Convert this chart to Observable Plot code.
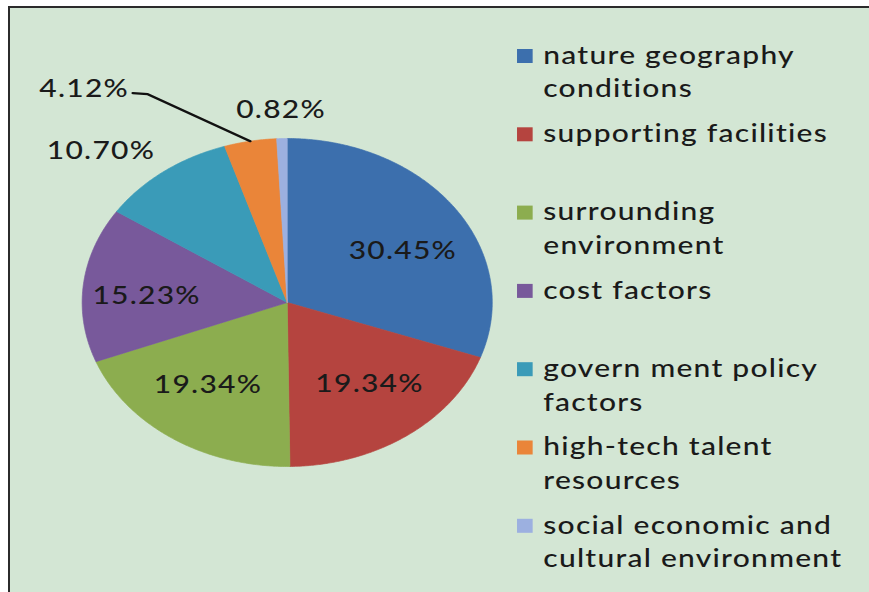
<!DOCTYPE html>
<html><head><meta charset="utf-8">
<script src="https://cdn.jsdelivr.net/npm/d3@7"></script>
<script src="https://cdn.jsdelivr.net/npm/@observablehq/plot@0.6"></script>
<style>
html,body{margin:0;padding:0;background:#fff;}
#wrap{position:relative;width:869px;height:592px;overflow:hidden;}
#bg{position:absolute;left:8px;top:6px;right:0;bottom:0;background:#d3e6d4;border-top:2px solid #2b2b2b;border-left:2px solid #2b2b2b;}
#chart{position:absolute;left:0;top:0;}
</style></head><body>
<div id="wrap"><div id="bg"></div><div id="chart"></div></div>
<script>
// ---- data ----
const categories = [
  "nature geography conditions",
  "supporting facilities",
  "surrounding environment",
  "cost factors",
  "government policy factors",
  "high-tech talent resources",
  "social economic and cultural environment"
];
const shares = [30.45, 19.34, 19.34, 15.23, 10.70, 4.12, 0.82];
const shareLabels = ["30.45%", "19.34%", "19.34%", "15.23%", "10.70%", "4.12%", "0.82%"];
const legendLabels = [
  "nature geography\nconditions",
  "supporting facilities",
  "surrounding\nenvironment",
  "cost factors",
  "govern ment policy\nfactors",
  "high-tech talent\nresources",
  "social economic and\ncultural environment"
];
const colors = ["#3c6fad", "#b5443f", "#8cad4f", "#78599b", "#3a9bb8", "#ea8539", "#9cb0e0"];

// ---- layout (unstretched drawing units; the svg is stretched horizontally like the source image) ----
const W = 695, H = 592, OUT_W = 869;
const cx = 229.2, cy = 302, R = 164;
const total = d3.sum(shares);
const toPt = (a, rx, ry = rx) => ({x: cx + rx * Math.sin(a), y: cy - ry * Math.cos(a)});

let acc = 0;
const slices = categories.map((name, i) => {
  const a0 = acc / total * 2 * Math.PI;
  acc += shares[i];
  const a1 = acc / total * 2 * Math.PI;
  return {name, i, a0, a1, mid: (a0 + a1) / 2, label: shareLabels[i], value: shares[i]};
});

const slicePts = [];
for (const s of slices) {
  slicePts.push({name: s.name, ...toPt(0, 0)});
  const n = Math.max(2, Math.ceil((s.a1 - s.a0) / (Math.PI / 360)));
  for (let k = 0; k <= n; k++) slicePts.push({name: s.name, ...toPt(s.a0 + (s.a1 - s.a0) * k / n, R)});
  slicePts.push({name: s.name, ...toPt(0, 0)});
}

const inside = slices.filter(s => s.value >= 12).map(s => ({...s, ...toPt(s.mid, R * 0.69, R * 0.58)}));
const outsideEnd = slices.filter(s => s.value >= 5 && s.value < 12).map(s => { const p = toPt(s.mid, R * 1.16); return {...s, x: p.x + 9, y: p.y + 1}; });
const outsideMid = slices.filter(s => s.value < 1).map(s => ({...s, ...toPt(s.mid, R * 1.17)}));
const leadSlices = slices.filter(s => s.value >= 1 && s.value < 5);
const leader = [];
const leaderLabels = [];
for (const s of leadSlices) {
  const p = toPt(s.mid, R);
  const elbow = {x: p.x - 82, y: p.y - 47};
  const end = {x: elbow.x - 12, y: elbow.y - 1};
  leader.push({name: s.name, ...p}, {name: s.name, ...elbow}, {name: s.name, ...end});
  leaderLabels.push({label: s.label, x: end.x - 3, y: end.y - 4});
}

const rowPitch = 78.3, firstRow = 57;
const legend = legendLabels.map((t, i) => ({name: categories[i], text: t, cyRow: firstRow + rowPitch * i}));

const FS = 24;
const chart = Plot.plot({
  width: W, height: H, margin: 0,
  x: {domain: [0, W], range: [0, W], axis: null},
  y: {domain: [0, H], range: [0, H], axis: null},
  color: {domain: categories, range: colors},
  style: {background: "transparent", fontFamily: "Lato, 'Open Sans', sans-serif", color: "#1c1c1c", letterSpacing: "1px"},
  marks: [
    Plot.line(slicePts, {x: "x", y: "y", z: "name", fill: "name", stroke: "name", strokeWidth: 0.6, curve: "linear"}),
    Plot.text(inside, {x: "x", y: "y", text: "label", fontSize: FS, fontWeight: 500, fill: "#1a1a1a", dy: 4}),
    Plot.text(outsideEnd, {x: "x", y: "y", text: "label", fontSize: FS, fontWeight: 500, fill: "#1a1a1a", textAnchor: "end"}),
    Plot.text(outsideMid, {x: "x", y: "y", text: "label", fontSize: FS, fontWeight: 500, fill: "#1a1a1a"}),
    Plot.line(leader, {x: "x", y: "y", z: "name", stroke: "#111", strokeWidth: 2.2}),
    Plot.text(leaderLabels, {x: "x", y: "y", text: "label", fontSize: FS, fontWeight: 500, fill: "#1a1a1a", textAnchor: "end"}),
    Plot.rect(legend, {x1: () => 413.5, x2: () => 426, y1: d => d.cyRow - 8, y2: d => d.cyRow + 6, fill: "name"}),
    Plot.text(legend, {x: () => 434, y: d => d.cyRow - 17.5, text: "text", textAnchor: "start", lineAnchor: "top", lineHeight: 1.4, fontSize: FS, fontWeight: 500, fill: "#1a1a1a"})
  ]
});
chart.setAttribute("width", OUT_W);
chart.setAttribute("height", H);
chart.setAttribute("viewBox", `0 0 ${W} ${H}`);
chart.setAttribute("preserveAspectRatio", "none");
chart.style.maxWidth = "none";
chart.style.width = OUT_W + "px";
chart.style.height = H + "px";
document.getElementById("chart").appendChild(chart);
</script>
</body></html>
